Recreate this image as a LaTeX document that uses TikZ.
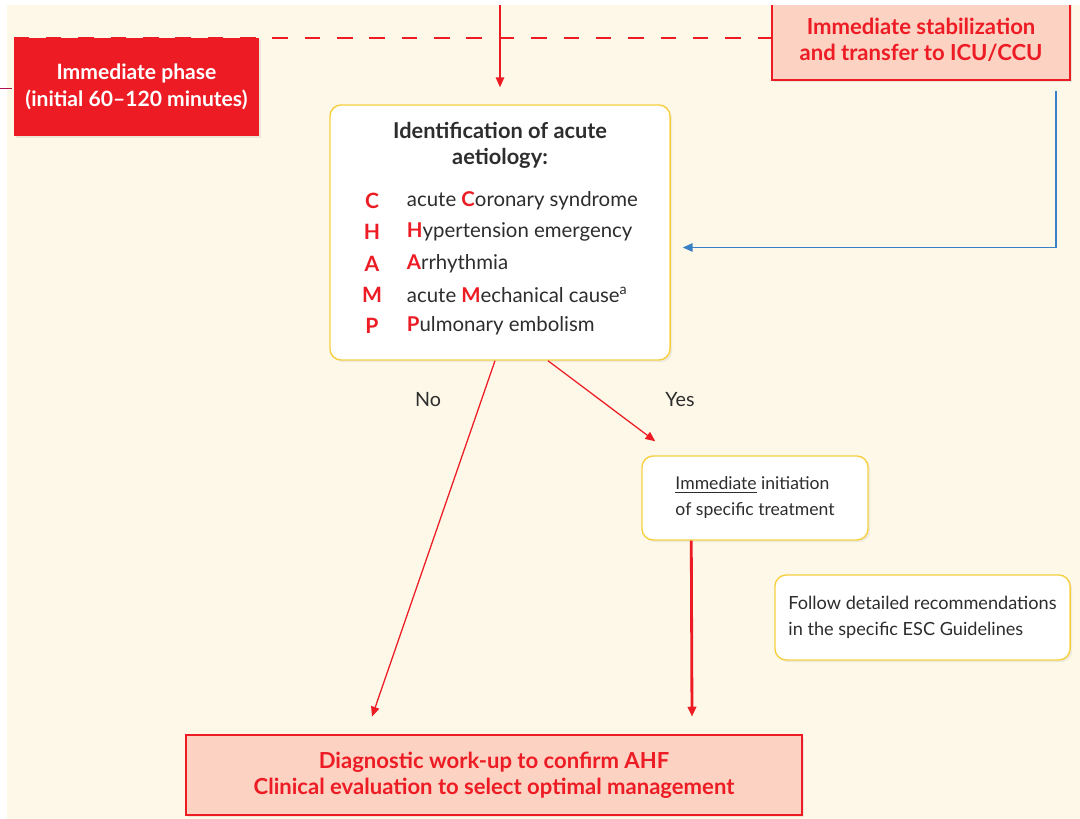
\documentclass[tikz,border=0pt]{standalone}
\usepackage{fontspec}
\setmainfont{Lato}
\usetikzlibrary{arrows.meta,positioning,calc,shadows}
\definecolor{ahfred}{RGB}{237,28,36}
\definecolor{ahfpink}{RGB}{252,210,195}
\definecolor{ahfcream}{RGB}{253,248,232}
\definecolor{ahfyellow}{RGB}{246,208,64}
\definecolor{ahfblue}{RGB}{58,128,196}
\definecolor{ahftext}{RGB}{45,45,45}
\newcommand{\redcap}[1]{{\color{ahfred}\bfseries #1}}

\begin{document}
\begin{tikzpicture}[x=0.025cm, y=-0.025cm,
    whitebox/.style={rectangle, draw=ahfyellow, fill=white, rounded corners=8pt, line width=1pt,
                     drop shadow={opacity=0.12, shadow xshift=1.5pt, shadow yshift=-1.5pt}},
    redbox/.style={rectangle, draw=ahfred, fill=ahfpink, line width=1.2pt, text=ahfred, align=center,
                   font=\fontsize{15.7}{18.5}\selectfont\bfseries},
    plain/.style={text=ahftext, font=\fontsize{12.5}{18.5}\selectfont},
    arr/.style={-{Triangle[length=7pt, width=6pt]}, ahfred, line width=0.9pt}
]
% background
\useasboundingbox (0,0) rectangle (1080,819);
\fill[ahfcream] (0,0) rectangle (1080,819);

% boxes
\node[rectangle, fill=ahfred, text=white, align=center, minimum width=6.125cm, minimum height=2.45cm,
      font=\fontsize{15}{19}\selectfont\bfseries,
      drop shadow={opacity=0.15, shadow xshift=1.5pt, shadow yshift=-1.5pt}]
      (phase) at (136.5,87) {Immediate phase\\(initial 60--120 minutes)};
\node[redbox, minimum width=7.45cm, minimum height=2cm,
      drop shadow={opacity=0.15, shadow xshift=1.5pt, shadow yshift=-1.5pt}]
      (stab) at (921,40) {Immediate stabilization\\and transfer to ICU/CCU};
\node[whitebox, minimum width=8.5cm, minimum height=6.375cm] (ident) at (500,232.5) {};
\node[plain, font=\fontsize{15.5}{18.5}\selectfont\bfseries, align=center]
      (idtitle) at (500,145) {Identification of acute\\aetiology:};
\foreach \letter/\txt [count=\i from 0] in {C/acute \redcap{C}oronary syndrome,
                                            H/\redcap{H}ypertension emergency,
                                            A/\redcap{A}rrhythmia,
                                            M/acute \redcap{M}echanical cause\textsuperscript{a},
                                            P/\redcap{P}ulmonary embolism}{
  \node[plain, font=\fontsize{15}{18.5}\selectfont\bfseries, text=ahfred]
        (let\letter) at (372,201+31.2*\i) {\letter};
  \node[plain, font=\fontsize{14.5}{18.5}\selectfont, anchor=west]
        (row\letter) at (402,201+31.2*\i) {\txt};
}
\node[whitebox, plain, align=left, minimum width=5.65cm, minimum height=2.1cm]
      (treat) at (755,498) {\underline{Immediate} initiation\\of specific treatment};
\node[whitebox, plain, font=\fontsize{12.9}{18.5}\selectfont, align=left, minimum width=7.375cm, minimum height=2.125cm]
      (follow) at (922.5,617.5) {Follow detailed recommendations\\in the specific ESC Guidelines};
\node[redbox, line width=2pt, minimum width=15.4cm, minimum height=2cm,
      drop shadow={opacity=0.15, shadow xshift=1.5pt, shadow yshift=-1.5pt}]
      (diag) at (494,775) {Diagnostic work-up to confirm AHF\\Clinical evaluation to select optimal management};

% labels
\node[plain, font=\fontsize{14}{18}\selectfont] (no) at (428,400) {No};
\node[plain, font=\fontsize{14}{18}\selectfont] (yes) at (680,400) {Yes};

% connectors
\coordinate (top) at (500,0);
\draw[ahfred, line width=1.4pt, dash pattern=on 11pt off 12pt]
      (phase.north west) -- (phase.north west -| stab.west);
\draw[arr] (top) -- ($(ident.north)+(0,-17)$);
\draw[ahfblue, line width=0.9pt, -{Triangle[length=7pt, width=6pt]}]
      ($(stab.south east)+(-15,10)$) |- ($(ident.east)+(12,15)$);
\draw[arr] ($(ident.south)+(-5,0)$) -- ($(diag.north)+(-122,-17)$);
\draw[arr] ($(ident.south)+(48,0)$) -- ($(treat.north west)+(14,-14)$);
\draw[arr, line width=2pt] ($(treat.south west)+(50,0)$) -- ($(diag.north)+(198,-17)$);

% page edge
\fill[white] (0,0) rectangle (1080,5);
\fill[white] (0,0) rectangle (7,819);
\draw[ahfred!50!violet, line width=0.5pt] (0,88) -- (12,88);
\end{tikzpicture}
\end{document}
